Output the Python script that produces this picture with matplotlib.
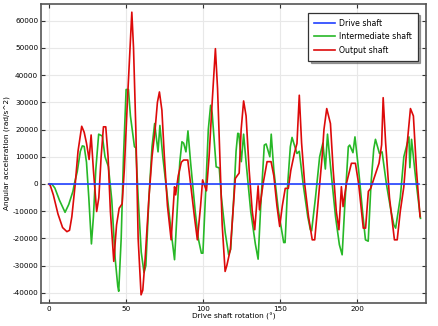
import numpy as np
import matplotlib
matplotlib.use('Agg')
import matplotlib.pyplot as plt

# Angular acceleration of the three shafts vs drive shaft rotation

# Drive shaft (constant speed -> zero acceleration)
drive_x = [0, 240]
drive_y = [0, 0]

# Intermediate shaft
inter_x = [0, 2, 4, 7, 10.6, 13, 15.7, 16.6, 18.5, 20.5, 21.8, 23, 24.5, 26, 27.7, 29,
           30.5, 32.4, 34.8, 36.5, 38.7, 40.9, 43.1, 44.8, 45.4, 47, 48.5, 50.2, 51.7,
           53, 55.6, 56.5, 58, 60, 61.8, 63, 65, 67, 68.7, 70.9, 72.1, 74, 77, 79.5,
           81.6, 83.5, 85, 86.4, 87.5, 89, 90.3, 92, 95, 97, 99, 100, 102, 103.5, 105,
           106, 108.6, 110.6, 112, 114.5, 116.7, 118, 120, 121.5, 122.6, 123.3, 124.9,
           126.4, 128, 131, 134, 135.8, 137.5, 139.8, 141, 143.4, 144.3, 146, 149,
           152.4, 153.3, 155, 156.7, 157.8, 161, 162.5, 165, 168, 169.7, 170.5, 173,
           175.7, 177.8, 179.4, 180.8, 183, 186, 188.5, 190.3, 192, 194.3, 195.2,
           197.3, 198.6, 201, 203.5, 205.4, 207.2, 209, 210.8, 211.9, 214.5, 216.2,
           219, 222, 223.8, 225, 228, 230.3, 233.6, 234.2, 235.3, 238, 241.1]
inter_y = [0, 0, -1500, -6000, -10400, -7500, -2700, 0, 4500, 12000, 14000, 13800, 8000,
           -5000, -22000, -12000, 5000, 18300, 17600, 10000, 6400, -5900, -27400, -37600,
           -39400, -20000, 10000, 34700, 34700, 25000, 13700, 13300, -5000, -25000,
           -32500, -30000, -5000, 13700, 22200, 11800, 21500, 10000, -5000, -18000,
           -27800, -8000, 8000, 15500, 15000, 11800, 19500, 8000, -10000, -20000,
           -25400, -25400, 0, 20000, 28900, 26000, 6300, 5900, -5000, -18000, -26000,
           -24000, -5000, 12000, 18600, 18500, 8200, 18300, 8000, -10000, -22000,
           -27600, -8000, 14300, 14700, 10000, 18300, 5000, -10000, -21500, -21500, 0,
           13700, 17100, 11200, 12000, 0, -12000, -16800, -17200, -5000, 10000, 15000,
           5500, 18300, 5000, -12000, -22300, -26000, -8000, 13700, 14300, 11500,
           17300, 5000, -10000, -20500, -21000, 0, 12900, 16400, 11200, 11800, 0,
           -10000, -15000, -16200, -5000, 10000, 17300, 6000, 16400, 2000, -12600]

# Output shaft
out_x = [0, 1, 3, 6, 9, 11.8, 13.5, 15, 17.2, 19, 21.4, 23, 24.5, 26.2, 27.5, 29, 31.1,
         32.5, 34, 35.5, 37, 38.5, 40, 42.2, 44, 45.7, 47.6, 49, 51, 53.9, 55, 56.5,
         58, 59.9, 61, 62.5, 65, 67, 69, 70.5, 71.8, 73.4, 75, 77, 79.4, 81.6, 82.3,
         84, 86, 87.5, 90.2, 92, 94.5, 96.4, 98.5, 99.8, 102.3, 104, 106, 108.1, 109.5,
         111, 112.5, 114.4, 115.5, 117.8, 119.5, 121, 122.2, 123.5, 124.8, 126.4, 128,
         130, 132, 133.6, 135.8, 136.7, 139, 141.6, 144.2, 146, 148, 149.8, 151.5,
         153.4, 155.4, 157, 159.3, 161, 162.5, 164, 166, 168.5, 170.9, 172.5, 174.5,
         177.3, 178.5, 180.3, 182.7, 184.5, 186.5, 188.2, 189.8, 190.9, 193, 196.3,
         198.9, 201, 204, 205.5, 207.3, 208.8, 211.5, 214.2, 215.9, 216.9, 218.5, 221,
         224.2, 226, 228, 230.3, 232.5, 234.6, 236.5, 238.5, 240.8]
out_y = [0, -500, -4000, -11000, -16000, -17500, -17000, -12000, 0, 12000, 21200, 19000,
         15000, 9000, 18000, 5000, -10100, -5000, 10000, 21000, 21000, 10000, -10000,
         -28400, -15000, -8900, -7300, 5000, 30000, 63100, 50000, 20000, -20000, -40700,
         -39000, -27800, -5000, 10000, 20000, 30000, 33800, 27100, 10000, -8000, -20500,
         -1000, -4000, 3000, 8000, 8800, 8800, 0, -12000, -20500, -8000, 1500, -2500,
         10000, 30000, 49700, 35000, 10000, -15000, -32100, -30000, -24000, -10000, 2000,
         3000, 4000, 20000, 30500, 25000, 5000, -10000, -16800, -700, -9500, 0, 8200,
         8200, 3000, -8000, -15600, -8000, -1600, -1600, 5000, 11200, 14900, 32600,
         15000, 0, -12000, -20500, -20500, -8000, 10000, 20000, 27700, 22200, 5000,
         -10000, -16800, -1000, -8300, 0, 7600, 7600, 0, -16200, -16200, -2700, -1600,
         3000, 7600, 14400, 31700, 15000, -5000, -20500, -20500, -10000, -1000, 15000,
         27700, 25000, 5000, -12000]

xticks = [0, 50, 100, 150, 200]
yticks = [-40000, -30000, -20000, -10000, 0, 10000, 20000, 30000, 40000, 50000, 60000]

plt.rcParams['font.family'] = 'DejaVu Sans'
plt.rcParams['font.size'] = 5

fig = plt.figure(figsize=(4.38, 3.26), dpi=100)
ax = fig.add_axes([41/438, 1 - 303/326, (426.5 - 41)/438, (303 - 4)/326])

ax.plot(drive_x, drive_y, color='#2040ff', lw=1.2, label='Drive shaft', zorder=4)
ax.plot(inter_x, inter_y, color='#27b827', lw=1.2, label='Intermediate shaft', zorder=2)
ax.plot(out_x, out_y, color='#dd0a0a', lw=1.2, label='Output shaft', zorder=3)

ax.set_xlim(-5, 245)
ax.set_ylim(-43700, 66100)
ax.set_xticks(xticks)
ax.set_yticks(yticks)
ax.set_yticklabels([str(v) for v in yticks])
ax.grid(True, color='#e8e8e8', lw=0.8)
ax.set_axisbelow(True)
ax.tick_params(direction='in', length=3, width=0.8, top=True, right=True,
               labelsize=5.2, pad=2, color='#333333')
for s in ax.spines.values():
    s.set_color('#555555')
    s.set_linewidth(1.2)

ax.set_xlabel('Drive shaft rotation (°)', fontsize=5.3, labelpad=1)
ax.set_ylabel('Angular acceleration (rad/s^2)', fontsize=5.3, labelpad=2)

leg = ax.legend(loc='upper right', bbox_to_anchor=(0.977, 0.971), borderaxespad=0,
                fontsize=5.6, fancybox=False, shadow=True, framealpha=1,
                handlelength=2.8, handletextpad=0.45, borderpad=0.75, labelspacing=0.6)
leg.get_frame().set_edgecolor('#333333')
leg.get_frame().set_linewidth(0.9)

fig.savefig('out.png', dpi=100)
